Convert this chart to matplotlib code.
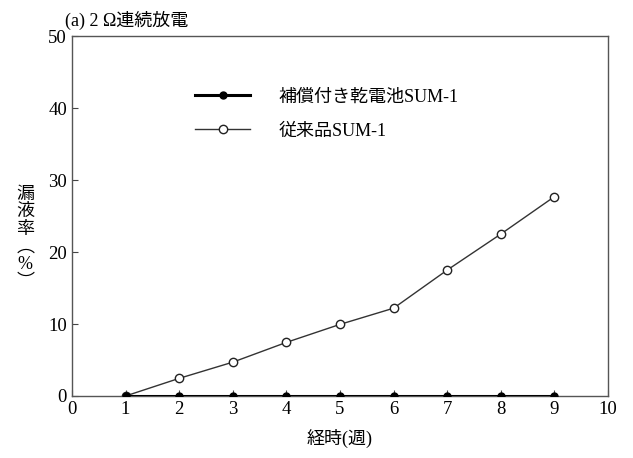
import matplotlib.pyplot as plt

plt.rcParams['font.family'] = ['Liberation Serif', 'Noto Sans CJK JP']

weeks = [1, 2, 3, 4, 5, 6, 7, 8, 9]
hosho = [0, 0, 0, 0, 0, 0, 0, 0, 0]
jurai = [0, 2.45, 4.7, 7.45, 9.95, 12.2, 17.5, 22.5, 27.7]
label_hosho = '補償付き乾電池SUM-1'
label_jurai = '従来品SUM-1'

fig = plt.figure(figsize=(6.33, 4.58), dpi=100)
ax = fig.add_axes([0.1137, 0.1354, 0.8468, 0.7856])

ax.plot(weeks, jurai, color='#333333', linewidth=1.0, marker='o', markersize=6,
        markerfacecolor='white', markeredgecolor='#222222', markeredgewidth=1.0,
        label=label_jurai, zorder=2)
ax.plot(weeks, hosho, color='black', linewidth=2.2, marker='o', markersize=5,
        markerfacecolor='black', label=label_hosho, zorder=3)

ax.set_xlim(0, 10)
ax.set_ylim(0, 50)
ax.set_xticks(range(0, 11))
ax.set_yticks(range(0, 51, 10))
ax.tick_params(direction='in', length=4, labelsize=13.5, color='#444444')
for s in ax.spines.values():
    s.set_color('#555555')
    s.set_linewidth(1.0)

h, l = ax.get_legend_handles_labels()
ax.legend(h[::-1], l[::-1], loc='upper left', bbox_to_anchor=(0.2, 0.9),
          frameon=False, fontsize=13, handlelength=3.0, handletextpad=1.6,
          labelspacing=0.95)

fig.text(0.103, 0.955, '(a) 2 Ω連続放電', fontsize=13, ha='left', va='center')
fig.text(0.04, 0.48, '漏\n液\n率\n︵\n%\n︶', fontsize=13, ha='center',
         va='center', linespacing=1.05)
ax.set_xlabel('経時(週)', fontsize=13, labelpad=8)

fig.savefig('out.png', dpi=100)
